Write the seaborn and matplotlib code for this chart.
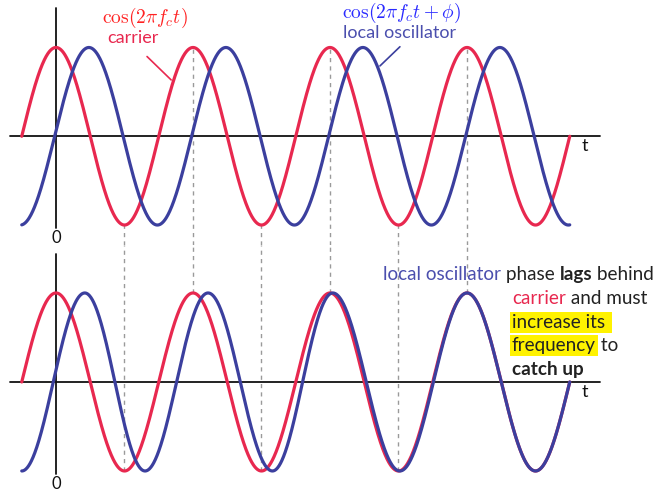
import numpy as np
import pandas as pd
import matplotlib
matplotlib.use("Agg")
import matplotlib.pyplot as plt
import seaborn as sns

# ---- data (time in carrier periods, f_c = 1) ----
t_span = [-0.25, 3.75]                       # extent of the drawn waveforms
guide_times = [0.5, 1.0, 1.5, 2.0, 2.5, 3.0]  # carrier extrema joined by dashed guides
lag_top = 0.24                               # constant lag of the local oscillator (periods)
# lower panel: oscillator lag at its successive extrema, shrinking to zero
lag_times = [-0.25, 0.21, 0.65, 1.11, 1.58, 2.02, 2.51, 3.00, 3.75]
lag_values = [0.25, 0.21, 0.15, 0.11, 0.08, 0.02, 0.01, 0.00, 0.00]

RED = "#e8284f"
BLUE = "#3b3f9e"
W, H = 657, 491

sns.set_theme(style="white")
plt.rcParams["mathtext.fontset"] = "cm"
plt.rcParams["font.family"] = ["Lato", "DejaVu Sans"]

t = np.linspace(t_span[0], t_span[1], 1600)
carrier = np.cos(2 * np.pi * t)
osc_top = np.cos(2 * np.pi * (t - lag_top))
osc_bot = np.cos(2 * np.pi * (t - np.interp(t, lag_times, lag_values)))

fig = plt.figure(figsize=(W / 100, H / 100), dpi=100)
ax1 = fig.add_axes([0, 1 - 245 / H, 1, 245 / H])
ax2 = fig.add_axes([0, 0, 1, 1 - 245 / H])

xlim = (-56 / 137, (W - 56) / 137)
panels = [(ax1, osc_top, (-1.225, 1.535)), (ax2, osc_bot, (-1.225, 1.539))]

for i, (ax, osc, ylim) in enumerate(panels):
    ax.set_xlim(*xlim)
    ax.set_ylim(*ylim)
    ax.axis("off")
    df = pd.DataFrame({"t": np.concatenate([t, t]),
                       "v": np.concatenate([carrier, osc]),
                       "wave": ["carrier"] * len(t) + ["local oscillator"] * len(t)})
    # dashed guides through the carrier extrema, running between the panels
    g = np.array(guide_times)
    gv = np.cos(2 * np.pi * g)
    if i == 0:
        ax.vlines(g, ylim[0], gv, colors="#9a9a9a", linestyles=(0, (3, 3)), lw=1.0, zorder=1)
    else:
        ax.vlines(g, gv, ylim[1], colors="#9a9a9a", linestyles=(0, (3, 3)), lw=1.0, zorder=1)
    # axes through the origin
    ax.plot([-0.336, 3.97], [0, 0], color="#111111", lw=1.3, zorder=2)
    ax.plot([0, 0], [-1.03, 1.44], color="#111111", lw=1.3, zorder=2)
    sns.lineplot(data=df, x="t", y="v", hue="wave", palette=[RED, BLUE],
                 estimator=None, sort=False, lw=2.3, legend=False, ax=ax, zorder=3)
    ax.text(0, -1.145, "0", ha="center", va="center", fontsize=12, color="#111111")
    ax.text(3.86, -0.115, "t", ha="center", va="center", fontsize=13, color="#111111")

# top labels
ax1.text(0.65, 1.275, r"$\cos(2\pi f_c t)$", ha="center", va="baseline",
         fontsize=14, color="#ff2222")
ax1.text(0.56, 1.05, "carrier", ha="center", va="baseline", fontsize=13, color=RED)
ax1.annotate("", xy=(0.855, np.cos(2 * np.pi * 0.855)), xytext=(0.65, 0.92),
             arrowprops=dict(arrowstyle="-", color=RED, lw=1.2))
ax1.text(2.52, 1.33, r"$\cos(2\pi f_c t+\phi)$", ha="center", va="baseline",
         fontsize=14, color="#2a2aff")
ax1.text(2.51, 1.11, "local oscillator", ha="center", va="baseline",
         fontsize=13, color="#4b4fae")
tb = 2.35
ax1.annotate("", xy=(tb, np.cos(2 * np.pi * (tb - lag_top))), xytext=(2.525, 1.03),
             arrowprops=dict(arrowstyle="-", color=BLUE, lw=1.2))

# explanatory note, written run by run
renderer = fig.canvas.get_renderer()
HL = dict(facecolor="#fff200", edgecolor="none", pad=1.8)
NOTE_SIZE = 13.6


def write_line(x_px, base_px, runs):
    x = x_px
    for s, color, weight, box in runs:
        txt = fig.text(x / W, 1 - base_px / H, s, ha="left", va="baseline",
                       fontsize=NOTE_SIZE, color=color, fontweight=weight,
                       bbox=HL if box else None)
        ext = txt.get_window_extent(renderer)
        x = ext.x1


DARK = "#222222"
write_line(383, 280, [("local oscillator", "#4b4fae", "normal", False),
                      (" phase ", DARK, "normal", False),
                      ("lags", DARK, "bold", False),
                      (" behind", DARK, "normal", False)])
write_line(512, 304, [("carrier", RED, "normal", False),
                      (" and must", DARK, "normal", False)])
write_line(512, 328, [("increase its ", DARK, "normal", True)])
write_line(512, 351, [("frequency", DARK, "normal", True),
                      (" to", DARK, "normal", False)])
write_line(512, 375, [("catch up", DARK, "bold", False)])

fig.savefig("out.png", dpi=100)
